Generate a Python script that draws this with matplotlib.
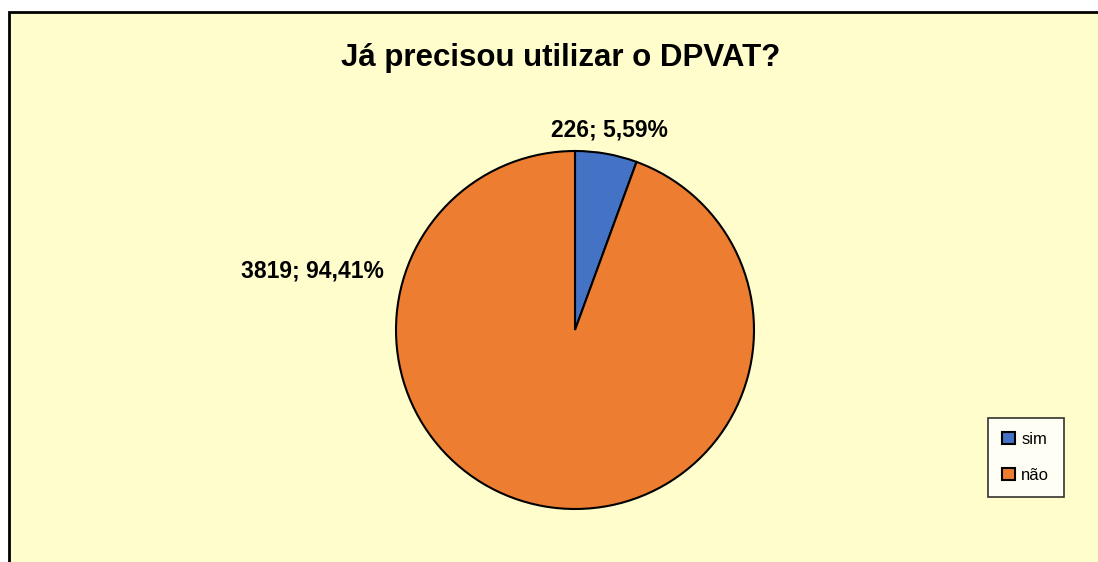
import numpy as np
import matplotlib
matplotlib.use("Agg")
import matplotlib.pyplot as plt
from matplotlib.patches import Rectangle

# data
categories = ['sim', 'não']
counts = [226, 3819]
colors = ['#4472C4', '#ED7D31']
title = 'Já precisou utilizar o DPVAT?'

plt.rcParams['font.family'] = ['Liberation Sans', 'DejaVu Sans']

W, H = 1098, 562
fig = plt.figure(figsize=(W / 100, H / 100), dpi=100)
fig.patch.set_facecolor('white')
ax = fig.add_axes([0, 0, 1, 1])

# chart area (frame is cut off at right and bottom)
ax.add_patch(Rectangle((9, -10), W + 20, H - 12 + 10, facecolor='#FFFDCC',
                       edgecolor='black', linewidth=2, zorder=0))

cx, cy, r = 575, H - 330, 179
wedges, _ = ax.pie(counts, colors=colors, startangle=90, counterclock=False,
                   center=(cx, cy), radius=r, frame=True,
                   wedgeprops=dict(edgecolor='black', linewidth=1.5))
ax.set_xlim(0, W)
ax.set_ylim(0, H)
ax.set_aspect('equal')
ax.axis('off')

total = sum(counts)
label_pos = [(609, H - 130), (312, H - 271)]
for v, (lx, ly) in zip(counts, label_pos):
    pct = 100.0 * v / total
    txt = f'{v}; {pct:.2f}%'.replace('.', ',')
    ax.text(lx, ly, txt, ha='center', va='center', fontsize=16.5, fontweight='bold')

ax.text(561, H - 58, title, ha='center', va='center', fontsize=22.5, fontweight='bold')

leg = ax.legend(wedges, categories, loc='upper left',
                bbox_to_anchor=(988 / W, 1 - 418 / H), fontsize=12,
                frameon=True, fancybox=False, edgecolor='black',
                handlelength=0.75, handleheight=0.75, handletextpad=0.4,
                labelspacing=1.25, borderpad=0.85, borderaxespad=0)
leg.get_frame().set_linewidth(1.2)
leg.get_frame().set_facecolor('white')

fig.savefig('out.png', dpi=100, facecolor='white')
